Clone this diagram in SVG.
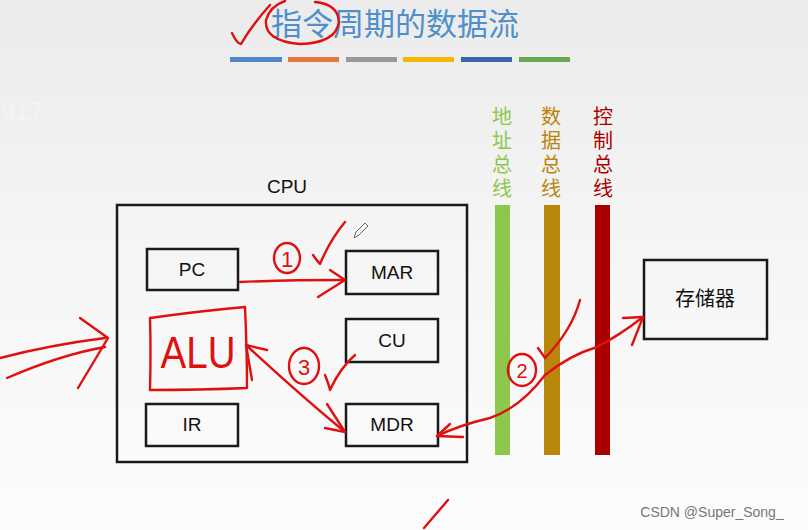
<svg xmlns="http://www.w3.org/2000/svg" width="808" height="530" viewBox="0 0 808 530">
<defs>
<linearGradient id="bg" x1="0" y1="0" x2="0" y2="1">
<stop offset="0" stop-color="#ebebeb"/>
<stop offset="0.45" stop-color="#f5f5f5"/>
<stop offset="1" stop-color="#fcfcfc"/>
</linearGradient>
</defs>
<style>
.box{fill:none;stroke:#1a1a1a;stroke-width:2.5}
.lbl{font-family:"Liberation Sans","Noto Sans",sans-serif;font-size:19px;fill:#111;text-anchor:middle}
.cjk{font-family:"Noto Sans CJK SC","Noto Sans",sans-serif;text-anchor:middle}
.vt{font-family:"Noto Sans CJK SC","Noto Sans",sans-serif;font-size:20px;writing-mode:vertical-rl;text-orientation:upright;letter-spacing:4px}
.ink{fill:none;stroke:#e01010;stroke-width:2.4;stroke-linecap:round;stroke-linejoin:round}
.inkt{font-family:"Liberation Sans","Noto Sans",sans-serif;fill:#e01010;text-anchor:middle}
</style>
<rect width="808" height="530" fill="url(#bg)"/>
<text x="1" y="120" font-family="Liberation Sans,sans-serif" font-size="26" fill="#f4f4f4">917</text>

<g id="title">
<text x="395" y="35" class="cjk" font-size="31" fill="#4f8fcb">指令周期的数据流</text>
<rect x="230" y="57" width="52" height="5" fill="#4f86c6"/>
<rect x="288" y="57" width="51" height="5" fill="#e2783a"/>
<rect x="346" y="57" width="51" height="5" fill="#999"/>
<rect x="403" y="57" width="51" height="5" fill="#f5b800"/>
<rect x="461" y="57" width="51" height="5" fill="#3c66b0"/>
<rect x="519" y="57" width="51" height="5" fill="#6aa84f"/>
</g>

<g id="cpu">
<text x="287" y="193" class="lbl">CPU</text>
<rect x="117" y="205" width="350" height="257" class="box"/>
</g>
<g id="pc"><rect x="147" y="249" width="91" height="41" class="box"/><text x="192" y="276" class="lbl">PC</text></g>
<g id="mar"><rect x="346" y="251" width="92" height="43" class="box"/><text x="392" y="279" class="lbl">MAR</text></g>
<g id="cu"><rect x="346" y="319" width="92" height="43" class="box"/><text x="392" y="347" class="lbl">CU</text></g>
<g id="ir"><rect x="146" y="404" width="92" height="42" class="box"/><text x="192" y="431" class="lbl">IR</text></g>
<g id="mdr"><rect x="346" y="404" width="92" height="42" class="box"/><text x="392" y="431" class="lbl">MDR</text></g>

<g id="addr-bus">
<rect x="495" y="205" width="15" height="250" fill="#8cc84b"/>
<text x="502" y="106" class="vt" fill="#8cc84b">地址总线</text>
</g>
<g id="data-bus">
<rect x="544" y="205" width="16" height="250" fill="#b8860b"/>
<text x="551" y="106" class="vt" fill="#b8860b">数据总线</text>
</g>
<g id="ctrl-bus">
<rect x="595" y="205" width="15" height="250" fill="#aa0000"/>
<text x="603" y="106" class="vt" fill="#aa0000">控制总线</text>
</g>
<g id="memory"><rect x="644" y="260" width="123" height="79" class="box"/><text x="705" y="306" class="cjk" font-size="20" fill="#111">存储器</text></g>

<g id="connectors">
<path class="ink" d="M232,33 Q237,44 241,44 Q252,25 270,5"/>
<path class="ink" d="M285,1 Q270,6 266,20 Q264,41 300,44 Q336,43 339,22 Q338,4 315,2"/>
<path class="ink" d="M240,282 Q290,280 345,280"/>
<path class="ink" d="M330,270 L345,280 L318,297"/>
<ellipse class="ink" cx="287" cy="258" rx="13" ry="15"/>
<text x="287" y="267" class="inkt" font-size="22">1</text>
<path class="ink" d="M313,255 Q318,262 320,264 Q330,240 345,222"/>
<path d="M354,238 L356,232 L365,223 L368,226 L359,235 Z" fill="none" stroke="#666" stroke-width="1"/>
<path class="ink" d="M150,318 Q200,311 245,307 Q247,350 247,388 Q200,390 150,390 Q151,350 150,318"/>
<text x="198" y="368" class="inkt" font-size="44" textLength="75" lengthAdjust="spacingAndGlyphs" style="font-weight:300">ALU</text>
<path class="ink" d="M246,345 Q300,395 345,432"/>
<path class="ink" d="M267,350 L246,345 L252,380"/>
<path class="ink" d="M325,428 L345,432 L327,404"/>
<ellipse class="ink" cx="304" cy="366" rx="15" ry="18"/>
<text x="304" y="375" class="inkt" font-size="22">3</text>
<path class="ink" d="M325,375 Q329,385 330,390 Q340,368 355,355"/>
<path class="ink" d="M437,436 Q460,425 490,418 Q520,408 545,375 Q570,355 597,347 Q620,335 643,317"/>
<path class="ink" d="M463,437 L437,436 L450,424"/>
<path class="ink" d="M623,318 L643,317 L632,345"/>
<ellipse class="ink" cx="522" cy="370" rx="14" ry="16"/>
<text x="522" y="378" class="inkt" font-size="20">2</text>
<path class="ink" d="M538,348 Q543,355 545,358 Q572,330 580,300"/>
<path class="ink" d="M0,358 Q50,345 105,338"/>
<path class="ink" d="M7,378 Q60,355 105,347"/>
<path class="ink" d="M80,318 L108,338 L78,388"/>
<path class="ink" d="M424,528 L448,500"/>
</g>

<text x="712" y="517" font-family="Liberation Sans,sans-serif" font-size="14" fill="#777" text-anchor="middle">CSDN @Super_Song_</text>
</svg>
